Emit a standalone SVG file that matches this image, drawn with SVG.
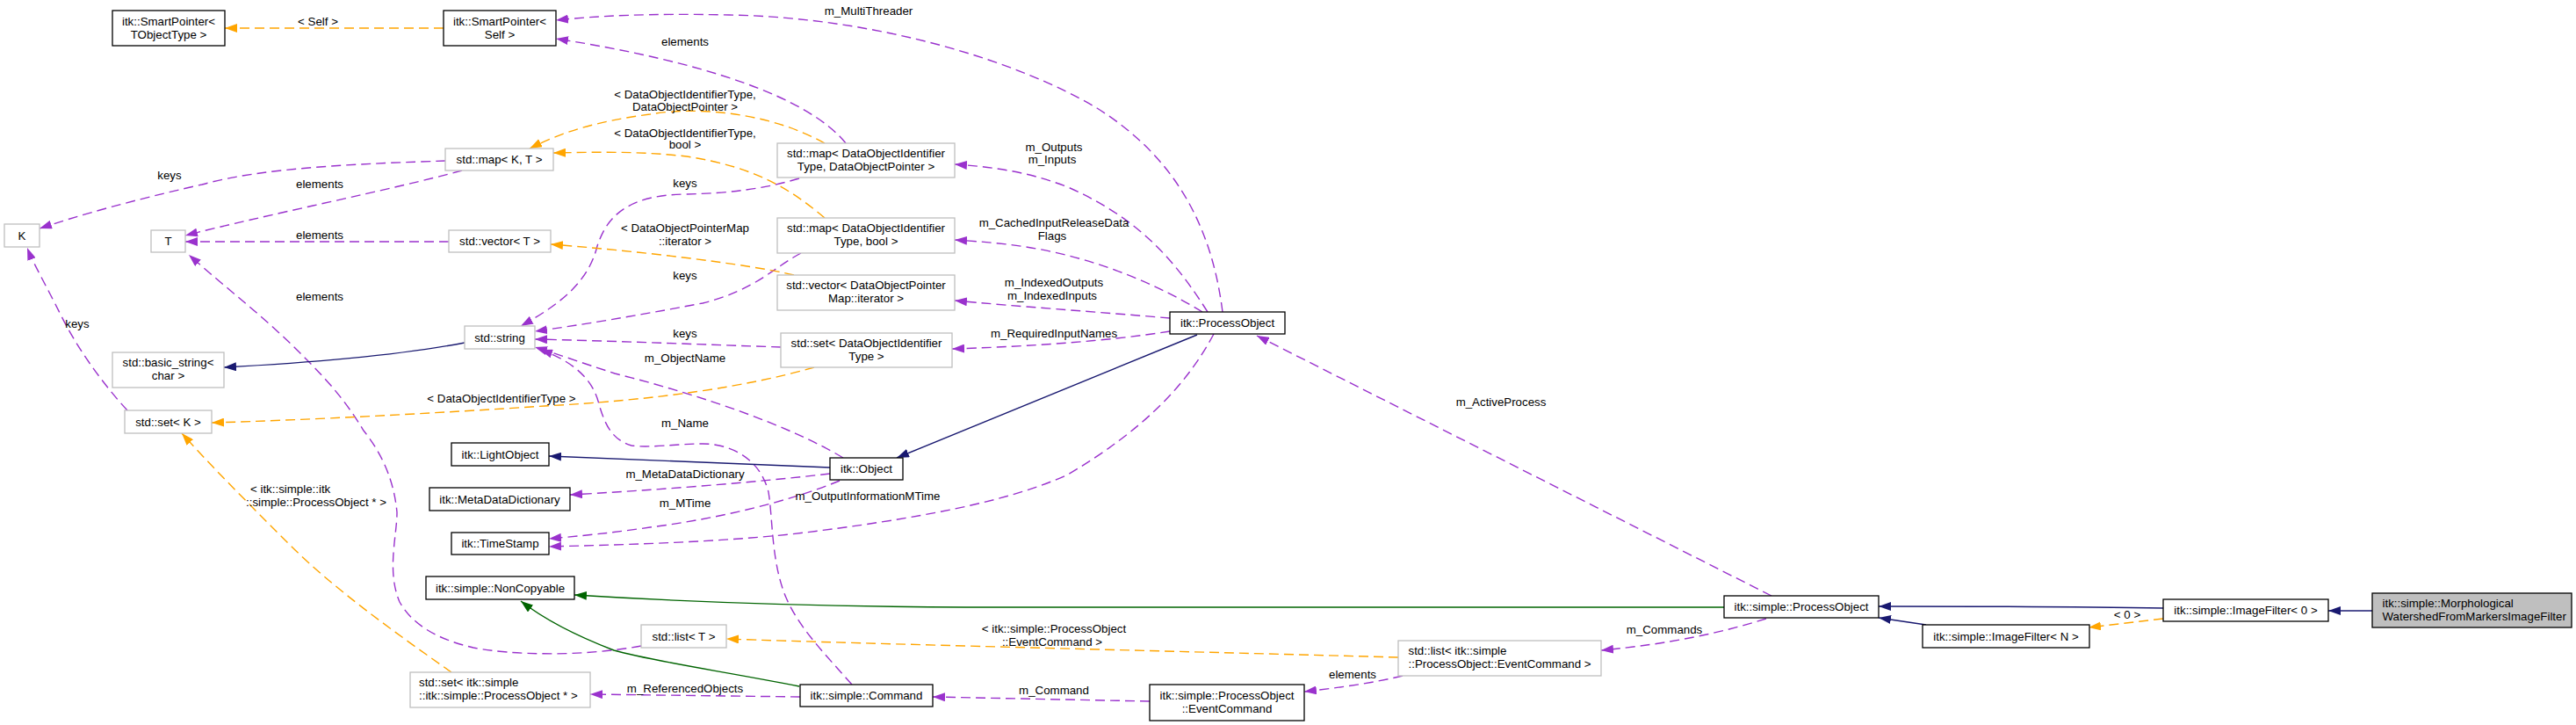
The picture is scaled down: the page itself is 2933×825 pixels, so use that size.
<svg xmlns="http://www.w3.org/2000/svg" width="2933" height="825" viewBox="0 0 2933 825">
<style>
text{font-family:"Liberation Sans",Arial,sans-serif;font-size:13.3px;fill:#000}
.c{text-anchor:middle}
.nb{fill:#fff;stroke:#000;stroke-width:1.3}
.ng{fill:#fff;stroke:#bfbfbf;stroke-width:1.3}
.nh{fill:#bfbfbf;stroke:#000;stroke-width:1.3}
.ep{fill:none;stroke:#9a32cd;stroke-width:1.4;stroke-dasharray:11,6;marker-end:url(#ap)}
.eo{fill:none;stroke:#ffa500;stroke-width:1.4;stroke-dasharray:11,6;marker-end:url(#ao)}
.en{fill:none;stroke:#191970;stroke-width:1.4;marker-end:url(#an)}
.eg{fill:none;stroke:#006400;stroke-width:1.4;marker-end:url(#ag)}
</style>
<defs>
<marker id="ap" markerUnits="userSpaceOnUse" markerWidth="14" markerHeight="10" refX="14" refY="5" orient="auto"><path d="M0,0 L14,5 L0,10 z" fill="#9a32cd"/></marker>
<marker id="ao" markerUnits="userSpaceOnUse" markerWidth="14" markerHeight="10" refX="14" refY="5" orient="auto"><path d="M0,0 L14,5 L0,10 z" fill="#ffa500"/></marker>
<marker id="an" markerUnits="userSpaceOnUse" markerWidth="14" markerHeight="10" refX="14" refY="5" orient="auto"><path d="M0,0 L14,5 L0,10 z" fill="#191970"/></marker>
<marker id="ag" markerUnits="userSpaceOnUse" markerWidth="14" markerHeight="10" refX="14" refY="5" orient="auto"><path d="M0,0 L14,5 L0,10 z" fill="#006400"/></marker>
</defs>
<rect width="2933" height="825" fill="#fff"/>

<g id="connectors">
<path class="eo" d="M505,32 L256,32"/>
<path class="ep" d="M963,163 C920,110 800,70 633,44"/>
<path class="ep" d="M1392,355 C1380,260 1340,180 1249,123 C1160,70 1000,20 830,17 C740,15 680,18 633,23"/>
<path class="eo" d="M939,163 C880,130 800,120 740,130 C680,138 640,150 603,169"/>
<path class="eo" d="M939,248 C900,215 860,190 782,178 C730,172 680,173 630,174"/>
<path class="ep" d="M507,183 C420,186 300,190 230,210 C150,228 90,245 45,260"/>
<path class="ep" d="M526,194 C450,215 300,245 211,268"/>
<path class="ep" d="M511,275 L211,275"/>
<path class="ep" d="M730,735 C660,748 580,745 539,737 C500,728 470,712 455,685 C440,650 452,610 452,583 C448,540 430,510 414,490 C390,450 365,425 340,400 C300,360 260,330 215,290"/>
<path class="ep" d="M145,467 C120,440 90,400 70,360 C50,320 38,300 31,282"/>
<path class="eo" d="M927,418 C850,440 750,455 620,462 C500,470 350,478 241,481"/>
<path class="en" d="M529,390 C450,405 350,413 255,418"/>
<path class="ep" d="M910,203 C870,215 830,220 780,221 C710,222 690,250 680,280 C670,320 640,345 593,371"/>
<path class="ep" d="M912,288 C880,305 860,330 800,345 C720,360 660,370 609,377"/>
<path class="ep" d="M889,395 C800,392 700,388 609,386"/>
<path class="ep" d="M960,521 C900,485 800,450 700,425 C660,412 635,403 609,395"/>
<path class="ep" d="M970,779 C940,745 910,715 895,680 C878,640 880,590 875,560 C865,520 830,505 800,505 C770,505 740,510 719,507 C695,500 688,480 682,460 C675,430 650,410 615,398"/>
<path class="en" d="M945,532 L625,519"/>
<path class="ep" d="M945,539 C850,550 740,558 649,563"/>
<path class="ep" d="M956,547 C900,570 820,590 740,600 C700,606 660,610 625,613"/>
<path class="ep" d="M1382,380 C1350,440 1300,490 1216,540 C1150,570 1050,590 900,608 C800,618 700,620 625,622"/>
<path class="en" d="M1363,381 L1021,521"/>
<path class="ep" d="M1375,355 C1340,300 1300,250 1216,213 C1170,195 1130,190 1087,187"/>
<path class="ep" d="M1369,355 C1320,325 1260,300 1200,287 C1160,278 1120,275 1087,273"/>
<path class="ep" d="M1332,362 C1250,355 1150,348 1087,342"/>
<path class="ep" d="M1332,377 C1250,390 1150,395 1084,397"/>
<path class="eo" d="M904,313 C850,300 720,285 627,278"/>
<path class="ep" d="M2017,678 L1431,382"/>
<path class="eg" d="M1963,691 L1100,691 C900,690 750,683 654,677"/>
<path class="eg" d="M910,781 C830,765 740,752 699,740 C660,725 620,705 593,684"/>
<path class="ep" d="M2011,704 C1960,720 1900,733 1823,740"/>
<path class="eo" d="M1592,748 C1300,740 1000,733 827,727"/>
<path class="ep" d="M1597,769 C1560,778 1520,783 1485,787"/>
<path class="ep" d="M1309,798 L1062,793"/>
<path class="ep" d="M911,793 L672,790"/>
<path class="eo" d="M514,765 C450,720 380,670 330,620 C280,570 240,530 207,493"/>
<path class="en" d="M2463,692 C2350,690 2250,690 2139,690"/>
<path class="en" d="M2193,711 L2139,703"/>
<path class="eo" d="M2463,704 L2378,714"/>
<path class="en" d="M2701,695 L2651,695"/>

<text class="c" x="362" y="28.7">&lt; Self &gt;</text>
<text class="c" x="989" y="16.7">m_MultiThreader</text>
<text class="c" x="780" y="51.7">elements</text>
<text class="c" x="780" y="111.7">&lt; DataObjectIdentifierType,</text>
<text class="c" x="780" y="125.7">DataObjectPointer &gt;</text>
<text class="c" x="780" y="155.7">&lt; DataObjectIdentifierType,</text>
<text class="c" x="780" y="168.7">bool &gt;</text>
<text class="c" x="193" y="203.7">keys</text>
<text class="c" x="364" y="213.7">elements</text>
<text class="c" x="364" y="271.7">elements</text>
<text class="c" x="364" y="341.7">elements</text>
<text class="c" x="88" y="372.7">keys</text>
<text class="c" x="780" y="212.7">keys</text>
<text class="c" x="780" y="263.7">&lt; DataObjectPointerMap</text>
<text class="c" x="780" y="278.7">::iterator &gt;</text>
<text class="c" x="780" y="317.7">keys</text>
<text class="c" x="780" y="383.7">keys</text>
<text class="c" x="780" y="411.7">m_ObjectName</text>
<text class="c" x="571" y="457.7">&lt; DataObjectIdentifierType &gt;</text>
<text class="c" x="780" y="485.7">m_Name</text>
<text class="c" x="780" y="543.7">m_MetaDataDictionary</text>
<text class="c" x="780" y="576.7">m_MTime</text>
<text class="c" x="988" y="568.7">m_OutputInformationMTime</text>
<text x="285" y="560.7">&lt; itk::simple::itk</text>
<text x="280" y="575.7">::simple::ProcessObject * &gt;</text>
<text class="c" x="780" y="787.7">m_ReferencedObjects</text>
<text class="c" x="1200" y="171.7">m_Outputs</text>
<text class="c" x="1198" y="185.7">m_Inputs</text>
<text class="c" x="1200" y="257.7">m_CachedInputReleaseData</text>
<text class="c" x="1198" y="272.7">Flags</text>
<text class="c" x="1200" y="325.7">m_IndexedOutputs</text>
<text class="c" x="1198" y="340.7">m_IndexedInputs</text>
<text class="c" x="1200" y="383.7">m_RequiredInputNames</text>
<text class="c" x="1709" y="461.7">m_ActiveProcess</text>
<text class="c" x="1200" y="719.7">&lt; itk::simple::ProcessObject</text>
<text class="c" x="1198" y="734.7">::EventCommand &gt;</text>
<text class="c" x="1540" y="771.7">elements</text>
<text class="c" x="1200" y="789.7">m_Command</text>
<text class="c" x="1895" y="720.7">m_Commands</text>
<text class="c" x="2422" y="703.7">&lt; 0 &gt;</text>
</g>

<g id="n_sp_tobj"><rect class="nb" x="128" y="12" width="128" height="40"/><text class="c" x="192" y="28.5">itk::SmartPointer&lt;</text><text class="c" x="192" y="43.5">TObjectType &gt;</text></g>
<g id="n_sp_self"><rect class="nb" x="505" y="12" width="128" height="40"/><text class="c" x="569" y="28.5">itk::SmartPointer&lt;</text><text class="c" x="569" y="43.5">Self &gt;</text></g>
<g id="n_map_kt"><rect class="ng" x="507" y="169" width="123" height="25"/><text class="c" x="568.5" y="186">std::map&lt; K, T &gt;</text></g>
<g id="n_K"><rect class="ng" x="5" y="255" width="40" height="26"/><text class="c" x="25" y="273">K</text></g>
<g id="n_T"><rect class="ng" x="172" y="262" width="39" height="25"/><text class="c" x="191.5" y="279">T</text></g>
<g id="n_vec_t"><rect class="ng" x="511" y="262" width="116" height="25"/><text class="c" x="569" y="279">std::vector&lt; T &gt;</text></g>
<g id="n_string"><rect class="ng" x="529" y="371" width="80" height="26"/><text class="c" x="569" y="388.5">std::string</text></g>
<g id="n_basic"><rect class="ng" x="128" y="401" width="127" height="40"/><text class="c" x="191.5" y="417">std::basic_string&lt;</text><text class="c" x="191.5" y="432">char &gt;</text></g>
<g id="n_set_k"><rect class="ng" x="142" y="467" width="99" height="26"/><text class="c" x="191.5" y="484.5">std::set&lt; K &gt;</text></g>
<g id="n_light"><rect class="nb" x="514" y="504" width="111" height="26"/><text class="c" x="569.5" y="521.5">itk::LightObject</text></g>
<g id="n_mdd"><rect class="nb" x="489" y="555" width="160" height="26"/><text class="c" x="569" y="572.5">itk::MetaDataDictionary</text></g>
<g id="n_ts"><rect class="nb" x="514" y="606" width="111" height="25"/><text class="c" x="569.5" y="623">itk::TimeStamp</text></g>
<g id="n_noncopy"><rect class="nb" x="485" y="656" width="169" height="26"/><text class="c" x="569.5" y="673.5">itk::simple::NonCopyable</text></g>
<g id="n_set_po"><rect class="ng" x="467" y="765" width="205" height="40"/><text x="477" y="781">std::set&lt; itk::simple</text><text x="477" y="796">::itk::simple::ProcessObject * &gt;</text></g>
<g id="n_map_dop"><rect class="ng" x="885" y="163" width="202" height="39"/><text class="c" x="986" y="179">std::map&lt; DataObjectIdentifier</text><text class="c" x="986" y="194">Type, DataObjectPointer &gt;</text></g>
<g id="n_map_bool"><rect class="ng" x="885" y="248" width="202" height="40"/><text class="c" x="986" y="264">std::map&lt; DataObjectIdentifier</text><text class="c" x="986" y="279">Type, bool &gt;</text></g>
<g id="n_vec_dop"><rect class="ng" x="885" y="313" width="202" height="40"/><text class="c" x="986" y="329">std::vector&lt; DataObjectPointer</text><text class="c" x="986" y="344">Map::iterator &gt;</text></g>
<g id="n_set_doi"><rect class="ng" x="889" y="379" width="195" height="39"/><text class="c" x="986.5" y="395">std::set&lt; DataObjectIdentifier</text><text class="c" x="986.5" y="410">Type &gt;</text></g>
<g id="n_object"><rect class="nb" x="945" y="521" width="83" height="25"/><text class="c" x="986.5" y="538">itk::Object</text></g>
<g id="n_list_t"><rect class="ng" x="730" y="711" width="97" height="26"/><text class="c" x="778.5" y="728.5">std::list&lt; T &gt;</text></g>
<g id="n_command"><rect class="nb" x="911" y="779" width="151" height="25"/><text class="c" x="986.5" y="796">itk::simple::Command</text></g>
<g id="n_itkpo"><rect class="nb" x="1332" y="355" width="131" height="25"/><text class="c" x="1397.5" y="372">itk::ProcessObject</text></g>
<g id="n_list_ec"><rect class="ng" x="1592" y="729" width="231" height="40"/><text x="1603.5" y="745">std::list&lt; itk::simple</text><text x="1603.5" y="760">::ProcessObject::EventCommand &gt;</text></g>
<g id="n_eventcmd"><rect class="nb" x="1309" y="779" width="176" height="41"/><text class="c" x="1397" y="795.5">itk::simple::ProcessObject</text><text class="c" x="1397" y="810.5">::EventCommand</text></g>
<g id="n_spo"><rect class="nb" x="1963" y="678" width="176" height="25"/><text class="c" x="2051" y="695">itk::simple::ProcessObject</text></g>
<g id="n_if_n"><rect class="nb" x="2189" y="711" width="190" height="26"/><text class="c" x="2284" y="728.5">itk::simple::ImageFilter&lt; N &gt;</text></g>
<g id="n_if_0"><rect class="nb" x="2463" y="682" width="188" height="25"/><text class="c" x="2557" y="699">itk::simple::ImageFilter&lt; 0 &gt;</text></g>
<g id="n_morph"><rect class="nh" x="2701" y="675" width="227" height="39"/><text x="2712.5" y="691">itk::simple::Morphological</text><text x="2712.5" y="706">WatershedFromMarkersImageFilter</text></g>
</svg>
